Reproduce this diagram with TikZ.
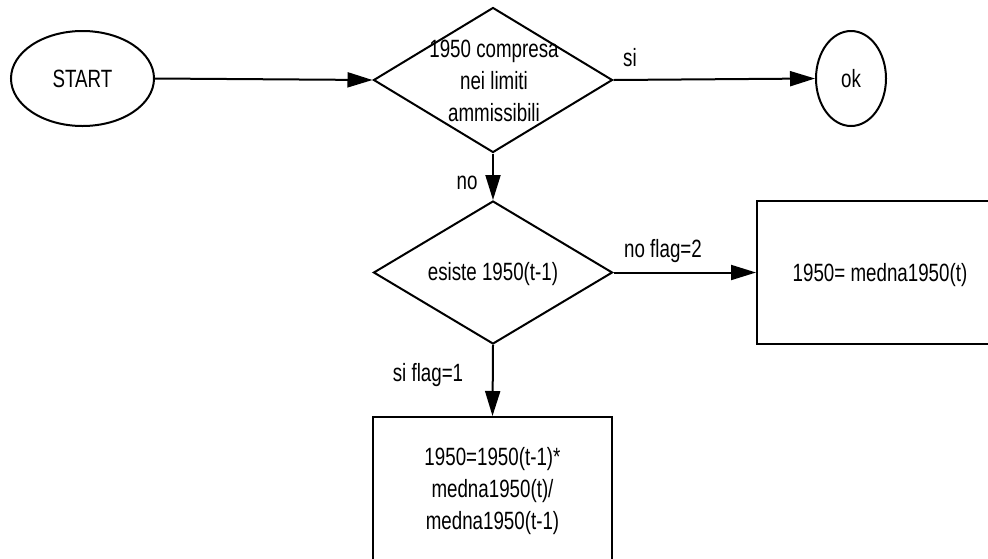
\documentclass[tikz,border=0pt]{standalone}
\usepackage{fontspec}
\setmainfont{Liberation Sans}[FakeStretch=0.75]
\usetikzlibrary{shapes.geometric,arrows.meta}
\begin{document}
\begin{tikzpicture}[x=1pt,y=-1pt,
  every node/.style={font=\fontsize{25}{32}\selectfont},
  shapeline/.style={draw=black,line width=2pt,inner sep=0pt},
  term/.style={shapeline,ellipse},
  decision/.style={shapeline,diamond},
  procbox/.style={shapeline,rectangle},
  txt/.style={inner sep=0pt,align=center},
  conn/.style={line width=2pt,-{Triangle[length=25pt,width=15pt]}},
  lbl/.style={inner sep=0pt}]
\useasboundingbox (0,0) rectangle (988,558);
\clip (0,0) rectangle (988,558);
\fill[white] (0,0) rectangle (988,558);
% shapes
\node[term,minimum width=143pt,minimum height=95pt] (start) at (82.5,78.5) {START};
\node[decision,minimum width=239pt,minimum height=145pt] (d1) at (493,80) {};
\node[txt] (d1t) at (494,81) {1950 compresa\\nei limiti\\ammissibili};
\node[term,minimum width=70pt,minimum height=95pt] (ok) at (851,78.5) {ok};
\node[decision,minimum width=239pt,minimum height=143pt] (d2) at (493,272.5) {};
\node[txt] (d2t) at (493,274) {esiste 1950(t-1)};
\node[procbox,minimum width=246pt,minimum height=143pt] (r2) at (880,272.5) {};
\node[txt] (r2t) at (880,275) {1950= medna1950(t)};
\node[procbox,minimum width=239pt,minimum height=146pt] (r1) at (492.5,490) {};
\node[txt] (r1t) at (492.5,491) {1950=1950(t-1)*\\medna1950(t)/\\medna1950(t-1)};
% connectors
\draw[conn] (start.east) -- (d1.west);
\draw[conn] (d1.east) -- (ok.west);
\draw[conn] (d1.south) -- (d2.north);
\draw[conn] (d2.east) -- (r2.west);
\draw[conn] (d2.south) -- (r1.north);
% labels
\node[lbl] (lsi) at (630,58) {si};
\node[lbl] (lno) at (467,183) {no};
\node[lbl] (lno2) at (663,251) {no flag=2};
\node[lbl] (lsi1) at (428,375) {si flag=1};
\end{tikzpicture}
\end{document}
